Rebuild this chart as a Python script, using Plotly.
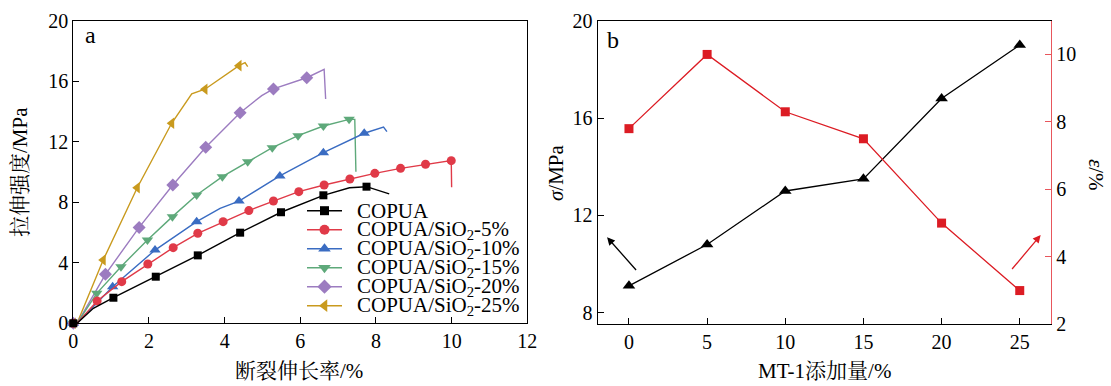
import plotly.graph_objects as go

W, H = 1111, 386

# ---------------- Panel a data (stress-strain curves) ----------------
copua_mx = [0, 1.06, 2.18, 3.29, 4.41, 5.49, 6.61, 7.75]
copua_my = [0, 1.69, 3.08, 4.49, 5.99, 7.34, 8.46, 9.03]
copua_cx = [0.1, 0.53, 1.06, 2.18, 3.29, 4.41, 5.49, 6.61, 7.30, 7.75, 8.35]
copua_cy = [0.0, 0.99, 1.69, 3.08, 4.49, 5.99, 7.34, 8.46, 8.96, 9.03, 8.55]

s5_mx = [0, 0.63, 1.28, 1.97, 2.64, 3.29, 3.96, 4.64, 5.29, 5.96, 6.63, 7.31, 7.97, 8.65, 9.31, 9.99]
s5_my = [0, 1.47, 2.75, 3.92, 5.00, 5.95, 6.72, 7.45, 8.08, 8.70, 9.14, 9.54, 9.91, 10.24, 10.51, 10.75]
s5_cx = [0.1, 0.63, 1.28, 1.97, 2.64, 3.29, 3.96, 4.64, 5.29, 5.96, 6.63, 7.31, 7.97, 8.65, 9.31, 9.99, 10.0]
s5_cy = [0.0, 1.47, 2.75, 3.92, 5.00, 5.95, 6.72, 7.45, 8.08, 8.70, 9.14, 9.54, 9.91, 10.24, 10.51, 10.75, 8.99]

s10_mx = [0, 1.04, 2.16, 3.26, 4.38, 5.46, 6.61, 7.69]
s10_my = [0, 2.42, 4.84, 6.72, 8.08, 9.74, 11.28, 12.56]
s10_cx = [0.1, 1.04, 2.16, 3.26, 3.88, 4.38, 5.46, 6.61, 7.69, 8.20, 8.29]
s10_cy = [0.0, 2.42, 4.84, 6.72, 7.60, 8.08, 9.74, 11.28, 12.56, 12.97, 12.67]

s15_mx = [0, 0.62, 1.26, 1.96, 2.62, 3.26, 3.94, 4.61, 5.26, 5.94, 6.61, 7.29]
s15_my = [0, 1.98, 3.74, 5.51, 7.05, 8.48, 9.69, 10.68, 11.61, 12.40, 13.04, 13.48]
s15_cx = [0.1, 0.62, 1.26, 1.96, 2.62, 3.26, 3.94, 4.61, 5.26, 5.94, 6.61, 7.29, 7.44, 7.47]
s15_cy = [0.0, 1.98, 3.74, 5.51, 7.05, 8.48, 9.69, 10.68, 11.61, 12.40, 13.04, 13.48, 13.48, 10.02]

s20_mx = [0, 0.85, 1.74, 2.63, 3.50, 4.41, 5.29, 6.17]
s20_my = [0, 3.24, 6.34, 9.14, 11.63, 13.92, 15.49, 16.23]
s20_cx = [0.1, 0.85, 1.74, 2.63, 3.50, 4.41, 4.98, 5.29, 6.17, 6.63, 6.67]
s20_cy = [0.0, 3.24, 6.34, 9.14, 11.63, 13.92, 15.05, 15.49, 16.23, 16.79, 14.82]

s25_mx = [0, 0.79, 1.69, 2.60, 3.48, 4.38]
s25_my = [0, 4.18, 8.96, 13.22, 15.47, 17.03]
s25_cx = [0.1, 0.79, 1.69, 2.60, 3.13, 3.48, 4.38, 4.54, 4.61]
s25_cy = [0.0, 4.18, 8.96, 13.22, 15.16, 15.47, 17.03, 17.23, 16.96]

names = ["COPUA", "COPUA/SiO<sub>2</sub>-5%", "COPUA/SiO<sub>2</sub>-10%",
         "COPUA/SiO<sub>2</sub>-15%", "COPUA/SiO<sub>2</sub>-20%", "COPUA/SiO<sub>2</sub>-25%"]

# ---------------- Panel b data ----------------
mt1 = [0, 5, 10, 15, 20, 25]
sigma = [9.1, 10.8, 13.0, 13.5, 16.8, 19.0]
eps = [7.8, 10.0, 8.3, 7.5, 5.0, 3.0]

# ---------------- styles ----------------
FONT = "Liberation Serif, Noto Serif CJK SC, Noto Sans CJK SC, serif"
colors = ["#000000", "#e03a48", "#3a6cc2", "#5ea97a", "#9c7cc0", "#c99a1e"]
symbols = ["square", "circle", "triangle-up", "triangle-down", "diamond", "triangle-left"]
sizes = [8, 9, 10, 10, 10, 10]
RED_B = "#dc1c24"
RED_AX = "#e8565c"

series = [
    (copua_mx, copua_my, copua_cx, copua_cy),
    (s5_mx, s5_my, s5_cx, s5_cy),
    (s10_mx, s10_my, s10_cx, s10_cy),
    (s15_mx, s15_my, s15_cx, s15_cy),
    (s20_mx, s20_my, s20_cx, s20_cy),
    (s25_mx, s25_my, s25_cx, s25_cy),
]

fig = go.Figure()

for i in reversed(range(len(series))):
    mx, my, cx, cy = series[i]
    fig.add_trace(go.Scatter(x=cx, y=cy, mode="lines", xaxis="x", yaxis="y",
                             line=dict(color=colors[i], width=1.4),
                             showlegend=False, cliponaxis=False, hoverinfo="skip"))
    fig.add_trace(go.Scatter(x=mx, y=my, mode="markers", xaxis="x", yaxis="y",
                             marker=dict(symbol=symbols[i], size=sizes[i], color=colors[i]),
                             showlegend=False, cliponaxis=False, name=names[i]))

# panel b
fig.add_trace(go.Scatter(x=mt1, y=sigma, mode="lines+markers", xaxis="x2", yaxis="y2",
                         line=dict(color="#000000", width=1.3),
                         marker=dict(symbol="triangle-up", size=11, color="#000000"),
                         showlegend=False, cliponaxis=False))
fig.add_trace(go.Scatter(x=mt1, y=eps, mode="lines+markers", xaxis="x2", yaxis="y3",
                         line=dict(color=RED_B, width=1.3),
                         marker=dict(symbol="square", size=9, color=RED_B),
                         showlegend=False, cliponaxis=False))

# custom legend (pixel overlay axes x4/y4)
LEG_X0, LEG_X1, LEG_XM, LEG_TX = 307, 342, 324.5, 355
LEG_Y0, LEG_DY = 210.7, 19.0
annotations = []
for i in range(6):
    yy = LEG_Y0 + i * LEG_DY
    fig.add_trace(go.Scatter(x=[LEG_X0, LEG_X1], y=[yy, yy], mode="lines", xaxis="x4", yaxis="y4",
                             line=dict(color=colors[i], width=1.6), showlegend=False, hoverinfo="skip"))
    fig.add_trace(go.Scatter(x=[LEG_XM], y=[yy], mode="markers", xaxis="x4", yaxis="y4",
                             marker=dict(symbol=symbols[i], size=sizes[i] + 1, color=colors[i]),
                             showlegend=False, hoverinfo="skip"))
    annotations.append(dict(x=LEG_TX / W, y=1 - yy / H, xref="paper", yref="paper",
                            text=names[i], showarrow=False, xanchor="left", yanchor="middle",
                            font=dict(family=FONT, size=21, color="#000")))

def px_ann(text, x, y, size=21, angle=0):
    return dict(x=x / W, y=1 - y / H, xref="paper", yref="paper", text=text, showarrow=False,
                xanchor="center", yanchor="middle", textangle=angle,
                font=dict(family=FONT, size=size, color="#000"))

annotations += [
    px_ann("a", 90, 35, 24),
    px_ann("b", 613, 40, 24),
    px_ann("拉伸强度/MPa", 20, 172, 21, -90),
    px_ann("断裂伸长率/%", 299, 371, 21),
    px_ann("<i>σ</i>/MPa", 556, 173, 21, -90),
    px_ann("<i>ε</i>/%", 1096, 175, 21, 90),
    px_ann("MT-1添加量/%", 824.5, 371, 21),
    dict(x=-1.40, y=11.1, ax=0.54, ay=9.69, xref="x2", yref="y2", axref="x2", ayref="y2",
         text="", showarrow=True, arrowhead=2, arrowsize=1.2, arrowwidth=1.3, arrowcolor="#000", standoff=0),
    dict(x=26.34, y=11.19, ax=24.43, ay=9.73, xref="x2", yref="y2", axref="x2", ayref="y2",
         text="", showarrow=True, arrowhead=2, arrowsize=1.2, arrowwidth=1.3, arrowcolor=RED_B, standoff=0),
]

axis_common = dict(showline=True, linecolor="#000", linewidth=1.3, ticks="inside", ticklen=6,
                   tickwidth=1.1, tickcolor="#000", showgrid=False, zeroline=False,
                   tickfont=dict(family=FONT, size=20, color="#000"), fixedrange=True)

fig.update_layout(
    width=W, height=H,
    margin=dict(l=0, r=0, t=0, b=0, autoexpand=False),
    paper_bgcolor="white", plot_bgcolor="rgba(0,0,0,0)",
    showlegend=False,
    xaxis=dict(axis_common, domain=[73.3 / W, 527.3 / W], range=[0, 12], dtick=2, tick0=0,
               anchor="y", mirror=True),
    yaxis=dict(axis_common, domain=[1 - 323.3 / H, 1 - 20.7 / H], range=[0, 20], dtick=4, tick0=0,
               anchor="x", mirror=True),
    xaxis2=dict(axis_common, domain=[597.7 / W, 1051 / W], range=[-2, 27], tickvals=mt1,
                anchor="y2", mirror=True),
    yaxis2=dict(axis_common, domain=[1 - 324.3 / H, 1 - 20.7 / H], range=[7.52, 20], dtick=4, tick0=8,
                anchor="x2", mirror=False),
    yaxis3=dict(axis_common, overlaying="y2", side="right", anchor="x2", range=[2, 11], dtick=2, tick0=2,
                linecolor=RED_AX, tickcolor=RED_AX),
    xaxis4=dict(domain=[0, 1], range=[0, W], visible=False, anchor="y4", fixedrange=True),
    yaxis4=dict(domain=[0, 1], range=[H, 0], visible=False, anchor="x4", fixedrange=True),
    annotations=annotations,
)

fig.write_html("out.html")
